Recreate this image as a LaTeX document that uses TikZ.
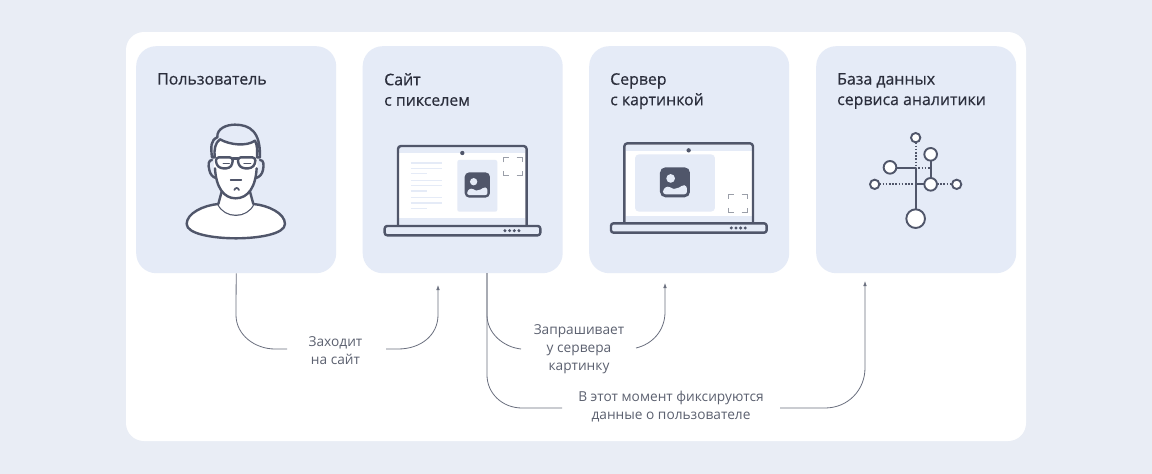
\documentclass[tikz,border=0pt]{standalone}
\usepackage{fontspec}
\setmainfont{Open Sans}
\newfontfamily\headf[FakeBold=0.55]{Open Sans}
\usetikzlibrary{arrows.meta}
\definecolor{bgc}{HTML}{E9EDF5}
\definecolor{cardc}{HTML}{E5EBF7}
\definecolor{inkc}{HTML}{50566A}
\definecolor{titlec}{HTML}{2B2E3C}
\definecolor{labc}{HTML}{5C6170}
\definecolor{linec}{HTML}{6A6F7E}
\definecolor{brk}{HTML}{9A9EA8}
\tikzset{
  card/.style={fill=cardc,draw=none,rounded corners=20pt,minimum width=200pt,minimum height=227pt,inner sep=0pt,anchor=north west},
  title/.style={font=\headf\fontsize{15.9}{20.5}\selectfont,text=titlec,align=left,anchor=north west,inner sep=0pt},
  lab/.style={font=\fontsize{13.7}{18}\selectfont,text=labc,align=center,inner sep=0pt},
  conn/.style={draw=linec,line width=0.8pt},
  arr/.style={conn,-{Latex[length=5pt,width=3.6pt]}},
  ink/.style={draw=inkc,line width=2.4pt,line join=round,line cap=round},
  txl/.style={draw=cardc,line width=1.5pt},
  brkl/.style={draw=brk,line width=0.9pt},
}
\newcommand{\picIcon}[3]{% x y size (zoom coordinates)
  \fill[inkc,rounded corners=#3*0.06pt] (#1,#2) rectangle ++(#3,#3);
  \fill[cardc] (#1+#3*0.355,#2+#3*0.37) circle[radius=#3*0.145];
  \fill[cardc,rounded corners=#3*0.03pt] (#1+#3*0.1,#2+#3*0.9)
    -- (#1+#3*0.1,#2+#3*0.74) .. controls (#1+#3*0.28,#2+#3*0.58) and (#1+#3*0.42,#2+#3*0.73) .. (#1+#3*0.55,#2+#3*0.70)
    .. controls (#1+#3*0.68,#2+#3*0.66) and (#1+#3*0.75,#2+#3*0.58) .. (#1+#3*0.9,#2+#3*0.62)
    -- (#1+#3*0.9,#2+#3*0.9) -- cycle;
}
\newcommand{\brackets}[4]{%
  \draw[brkl] (#1,#2+14) -- (#1,#2) -- (#1+16,#2);
  \draw[brkl] (#3-16,#2) -- (#3,#2) -- (#3,#2+14);
  \draw[brkl] (#1,#4-14) -- (#1,#4) -- (#1+16,#4);
  \draw[brkl] (#3-16,#4) -- (#3,#4) -- (#3,#4-14);
}
\newcommand{\laptopbody}[2]{% left x, top y of screen (zoom units)
  \fill[white,rounded corners=3pt] (#1,#2) rectangle ++(386,240);
  \fill[cardc] (#1+4,#2+4) rectangle ++(378,18);
  \fill[cardc] (#1+4,#2+217) rectangle ++(378,21);
  \draw[ink,rounded corners=3pt] (#1,#2+240) -- (#1,#2) -- (#1+386,#2) -- (#1+386,#2+240);
  \fill[cardc,rounded corners=2.5pt] (#1-40,#2+240) rectangle ++(467,28);
  \draw[ink,rounded corners=2.5pt] (#1-40,#2+240) rectangle ++(467,28);
  \fill[inkc] (#1+193,#2+21) circle[radius=6.5];
  \foreach \d in {0,14,28,42} \fill[inkc] (#1+321+\d,#2+254) circle[radius=5];
}
\begin{document}
\begin{tikzpicture}[x=1pt,y=-1pt]
\useasboundingbox (0,0) rectangle (1152,474);
\fill[bgc] (0,0) rectangle (1152,474);
\fill[white,rounded corners=18pt] (126,32) rectangle (1026,441);

\node[card] (c1) at (136,46) {};
\node[card] (c2) at (362.5,46) {};
\node[card] (c3) at (589,46) {};
\node[card] (c4) at (816,46) {};

\node[title] (t1) at (157,73) {Пользователь};
\node[title] (t2) at (384,73) {Сайт\\с пикселем};
\node[title] (t3) at (610,73) {Сервер\\с картинкой};
\node[title] (t4) at (837,73) {База данных\\сервиса аналитики};

% person
\begin{scope}[shift={(140,50)},x=0.3333pt,y=-0.3333pt]
  \filldraw[ink,fill=white] (235,462) .. controls (190,466) and (140,490) .. (140,522)
     .. controls (140,552) and (220,565) .. (288,565) .. controls (356,565) and (435,552) .. (435,522)
     .. controls (435,490) and (385,466) .. (340,462) .. controls (320,505) and (255,505) .. (235,462) -- cycle;
  \fill[white] (222,300) -- (222,370) .. controls (228,410) and (250,445) .. (287,445) .. controls (325,445) and (347,410) .. (352,370) -- (352,270) -- (300,285) -- (240,270) -- cycle;
  \fill[white] (245,420) -- (235,462) .. controls (255,505) and (320,505) .. (340,462) -- (330,420) -- cycle;
  \draw[ink] (245,425) -- (235,462);
  \draw[ink] (330,425) -- (340,462);
  \draw[ink] (225,355) .. controls (228,410) and (250,445) .. (287,445) .. controls (325,445) and (347,410) .. (350,355);
  % hair
  \filldraw[ink,fill=cardc] (216,322) .. controls (212,290) and (212,270) .. (232,262)
     .. controls (230,235) and (260,224) .. (285,224) .. controls (330,224) and (362,245) .. (360,322)
     -- (351,322) .. controls (352,300) and (352,285) .. (345,272) .. controls (320,290) and (270,285) .. (240,268)
     .. controls (225,278) and (222,300) .. (224,322) -- cycle;
  % ears
  \draw[ink] (216,330) .. controls (205,330) and (204,345) .. (208,360) .. controls (210,372) and (218,382) .. (228,384);
  \draw[ink] (360,330) .. controls (372,330) and (372,345) .. (369,360) .. controls (367,372) and (358,382) .. (348,384);
  % glasses
  \draw[ink,rounded corners=3pt] (228,322) -- (278,322) -- (278,342) -- (268,355) -- (240,355) -- (228,342) -- cycle;
  \draw[ink,rounded corners=3pt] (294,322) -- (346,322) -- (346,342) -- (334,355) -- (306,355) -- (294,342) -- cycle;
  \draw[ink] (278,326) -- (294,326);
  \draw[ink,line width=1.4pt] (250,340) -- (268,340);
  \draw[ink,line width=1.4pt] (312,340) -- (332,340);
  % nose, mouth
  \draw[ink,line width=1.7pt] (272,391) -- (304,391);
  \draw[ink,line width=1.7pt] (283,420) .. controls (286,412) and (294,412) .. (297,420);
\end{scope}

% laptop 1
\begin{scope}[shift={(370,130)},x=0.3333pt,y=-0.3333pt]
  \laptopbody{84}{48}
  \fill[cardc,rounded corners=2pt] (262,90) rectangle (382,245);
  \picIcon{284}{127}{76}
  \foreach \yy in {99,115,151,167,203,219} \draw[txl] (123,\yy) -- (216,\yy);
  \foreach \yy in {131,183,235} \draw[txl] (123,\yy) -- (171,\yy);
  \brackets{400}{83}{456}{137}
\end{scope}

% laptop 2
\begin{scope}[shift={(600,130)},x=0.3333pt,y=-0.3333pt]
  \laptopbody{73}{40}
  \fill[cardc,rounded corners=4pt] (105,73) rectangle (345,245);
  \picIcon{180}{112}{90}
  \brackets{385}{193}{441}{248}
\end{scope}

% network
\begin{scope}[shift={(850,120)},x=0.3333pt,y=-0.3333pt]
  \tikzset{nets/.style={draw=inkc,line width=2pt},netd/.style={draw=inkc,line width=1.9pt,dash pattern=on 1.6pt off 1.6pt}}
  \draw[nets,line join=round] (139,145) -- (197,145) -- (197,268);
  \draw[nets] (197,193) -- (223,193);
  \draw[nets] (242,122) -- (242,174);
  \draw[netd] (197,67) -- (197,138);
  \draw[netd] (205,145) -- (240,145);
  \draw[netd] (88,193) -- (192,193);
  \draw[netd] (261,193) -- (306,193);
  \foreach \cx/\cy/\r in {197/53/14,242/103/19,120/142/19,74/193/14,242/193/19,320/193/14,197/296/28}
    \filldraw[draw=inkc,line width=1.9pt,fill=white] (\cx,\cy) circle[radius=\r];
\end{scope}

% labels
\node[lab] (l1) at (335.5,350.5) {Заходит\\на сайт};
\node[lab] (l2) at (579,349) {Запрашивает\\у сервера\\картинку};
\node[lab] (l3) at (671,406.5) {В этот момент фиксируются\\данные о пользователе};

% arrow targets and line ends
\coordinate (c1b) at (c1.south);
\coordinate (a1) at (438,285);
\coordinate (a2) at (665,283);
\coordinate (a3) at (865,281);
\coordinate (s2) at (487,273);

\draw[conn] (c1b) -- (236,315) .. controls (236,335) and (255,349) .. (275,349) -- (287,349);
\draw[arr] (386,349) -- (398,349) .. controls (421,349) and (438,335) .. (438,315) -- (a1);
\draw[conn] (s2) -- (487,315) .. controls (487,333) and (503,347) .. (521,349);
\draw[arr] (636,348) .. controls (653,344) and (665,330) .. (665,312) -- (a2);
\draw[conn] (s2) -- (487,375) .. controls (487,393) and (502,408) .. (522,408) -- (562,408);
\draw[arr] (780,408) -- (825,408) .. controls (848,408) and (865,390) .. (865,368) -- (a3);
\end{tikzpicture}
\end{document}
